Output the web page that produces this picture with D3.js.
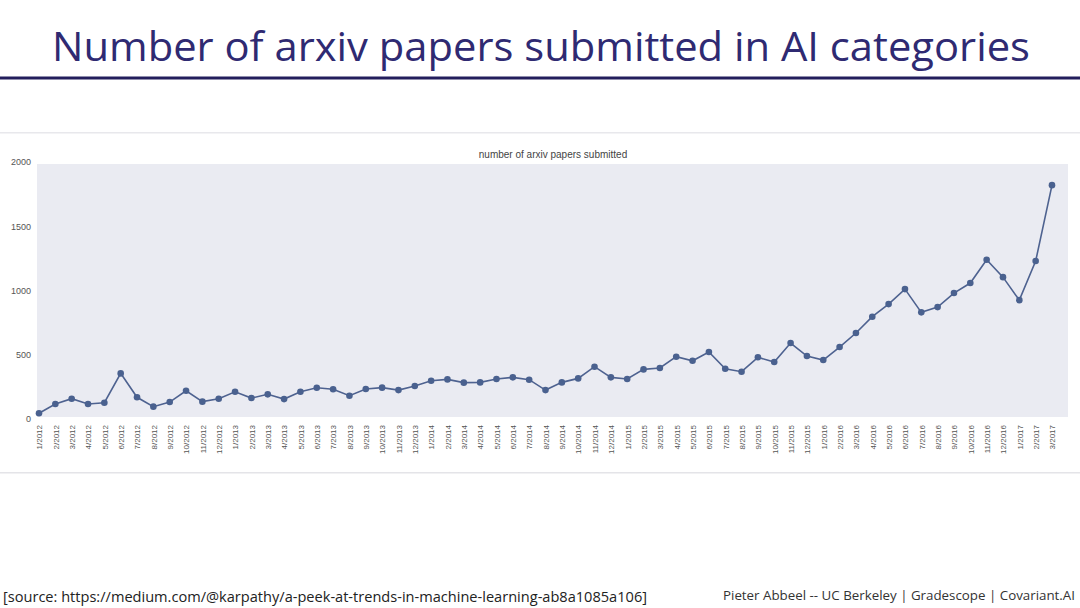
<!DOCTYPE html>
<html>
<head>
<meta charset="utf-8">
<script src="https://cdn.jsdelivr.net/npm/d3@7"></script>
<style>
  html, body { margin: 0; padding: 0; background: #ffffff; }
  svg { display: block; }
</style>
</head>
<body>
<svg id="chart" width="1080" height="608"></svg>
<script>
const months = [
  "1/2012","2/2012","3/2012","4/2012","5/2012","6/2012","7/2012","8/2012","9/2012","10/2012","11/2012","12/2012",
  "1/2013","2/2013","3/2013","4/2013","5/2013","6/2013","7/2013","8/2013","9/2013","10/2013","11/2013","12/2013",
  "1/2014","2/2014","3/2014","4/2014","5/2014","6/2014","7/2014","8/2014","9/2014","10/2014","11/2014","12/2014",
  "1/2015","2/2015","3/2015","4/2015","5/2015","6/2015","7/2015","8/2015","9/2015","10/2015","11/2015","12/2015",
  "1/2016","2/2016","3/2016","4/2016","5/2016","6/2016","7/2016","8/2016","9/2016","10/2016","11/2016","12/2016",
  "1/2017","2/2017","3/2017"
];
const papers = [
  45,117,158,117,127,355,169,96,132,220,135,158,
  212,163,192,155,212,243,231,181,233,244,225,257,
  298,308,283,285,311,324,306,225,285,316,407,324,
  311,386,397,485,453,521,391,368,480,443,591,490,
  459,560,669,796,894,1011,830,871,980,1058,1239,1104,
  925,1229,1820
];
const yTicks = [0, 500, 1000, 1500, 2000];
const slideTitle = "Number of arxiv papers submitted in AI categories";
const chartTitle = "number of arxiv papers submitted";
const sourceText = "[source: https://medium.com/@karpathy/a-peek-at-trends-in-machine-learning-ab8a1085a106]";
const creditText = "Pieter Abbeel -- UC Berkeley | Gradescope | Covariant.AI";

const svg = d3.select("#chart");

// Slide title
svg.append("text")
  .attr("x", 52).attr("y", 61)
  .attr("textLength", 978).attr("lengthAdjust", "spacingAndGlyphs")
  .style("font-family", "'Open Sans', sans-serif")
  .style("font-weight", "400")
  .style("font-size", "41px")
  .style("fill", "#2f2a72")
  .text(slideTitle);

svg.append("rect").attr("x", 0).attr("y", 76.5).attr("width", 1080).attr("height", 3).attr("fill", "#231e5c");

// Image frame lines
svg.append("rect").attr("x", 0).attr("y", 132).attr("width", 1080).attr("height", 1.5).attr("fill", "#e8e8ec");
svg.append("rect").attr("x", 0).attr("y", 472).attr("width", 1080).attr("height", 1.5).attr("fill", "#e4e4e8");

// Plot
const plot = { left: 37, right: 1068, top: 164, bottom: 417 };
const x = d3.scalePoint().domain(months).range([39, 1052]);
const y = d3.scaleLinear().domain([0, 2000]).range([419, 162]);

svg.append("rect")
  .attr("x", plot.left).attr("y", plot.top)
  .attr("width", plot.right - plot.left).attr("height", plot.bottom - plot.top)
  .attr("fill", "#eaebf2");

// chart title
svg.append("text")
  .attr("x", 553).attr("y", 158)
  .attr("text-anchor", "middle")
  .style("font-family", "'Liberation Sans', Arial, sans-serif")
  .style("font-size", "10px")
  .style("fill", "#444")
  .text(chartTitle);

// y axis
const yAxis = d3.axisLeft(y).tickValues(yTicks).tickFormat(d3.format("d")).tickSize(0).tickPadding(0);
const gy = svg.append("g").attr("transform", "translate(31,0)").call(yAxis);
gy.select(".domain").remove();
gy.selectAll("text")
  .style("font-family", "'Liberation Sans', Arial, sans-serif")
  .style("font-size", "9px")
  .style("fill", "#555");

// x axis
const xAxis = d3.axisBottom(x).tickSize(0).tickPadding(0);
const gx = svg.append("g").attr("transform", "translate(0,425)").call(xAxis);
gx.select(".domain").remove();
gx.selectAll("text")
  .attr("transform", "rotate(-90)")
  .attr("x", 0).attr("y", 0).attr("dy", "0.35em")
  .attr("text-anchor", "end")
  .style("font-family", "'Liberation Sans', Arial, sans-serif")
  .style("font-size", "8px")
  .style("fill", "#555");

// line
const line = d3.line().x((d, i) => x(months[i])).y(d => y(d));
svg.append("path")
  .datum(papers)
  .attr("d", line)
  .attr("fill", "none")
  .attr("stroke", "#4e6290")
  .attr("stroke-width", 1.6);

svg.selectAll("circle.pt")
  .data(papers)
  .enter().append("circle")
  .attr("class", "pt")
  .attr("cx", (d, i) => x(months[i]))
  .attr("cy", d => y(d))
  .attr("r", 3.3)
  .attr("fill", "#4a618f");

// Footer
svg.append("text")
  .attr("x", 3).attr("y", 602)
  .attr("textLength", 644).attr("lengthAdjust", "spacingAndGlyphs")
  .style("font-family", "'Open Sans', sans-serif")
  .style("font-size", "14.5px")
  .style("fill", "#222")
  .text(sourceText);

svg.append("text")
  .attr("x", 723).attr("y", 600)
  .attr("textLength", 352).attr("lengthAdjust", "spacingAndGlyphs")
  .style("font-family", "'Open Sans', sans-serif")
  .style("font-size", "12.5px")
  .style("fill", "#333")
  .text(creditText);
</script>
</body>
</html>
